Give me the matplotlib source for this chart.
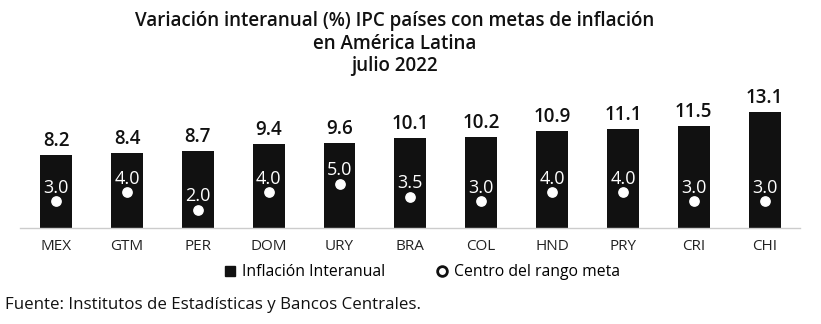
import matplotlib.pyplot as plt
from matplotlib.lines import Line2D

plt.rcParams['font.family'] = ['Open Sans', 'DejaVu Sans']

# datos
PAISES = ['MEX', 'GTM', 'PER', 'DOM', 'URY', 'BRA', 'COL', 'HND', 'PRY', 'CRI', 'CHI']
INFLACION = [8.2, 8.4, 8.7, 9.4, 9.6, 10.1, 10.2, 10.9, 11.1, 11.5, 13.1]
META = [3.0, 4.0, 2.0, 4.0, 5.0, 3.5, 3.0, 4.0, 4.0, 3.0, 3.0]

fig = plt.figure(figsize=(8.21, 3.24), dpi=100)
ax = fig.add_axes([0.0244, 0.296, 0.950, 0.412])

x = range(len(PAISES))
ax.bar(x, INFLACION, width=0.45, color='#111111', zorder=2)
ax.scatter(x, META, s=45, color='white', zorder=3)

for i in x:
    ax.text(i, INFLACION[i] + 0.45, f'{INFLACION[i]:.1f}', ha='center', va='bottom',
            fontsize=13.5, fontweight='semibold', color='#111111')
    ax.text(i, META[i] + 0.55, f'{META[i]:.1f}', ha='center', va='bottom',
            fontsize=13, color='white', zorder=4)

ax.set_xlim(-0.51, 10.5)
ax.set_ylim(0, 15)
ax.set_xticks(list(x))
ax.set_xticklabels(PAISES, fontsize=11, color='#222222')
ax.tick_params(axis='x', length=0, pad=8)
ax.set_yticks([])
for s in ['top', 'right', 'left']:
    ax.spines[s].set_visible(False)
ax.spines['bottom'].set_color('#cccccc')
ax.spines['bottom'].set_linewidth(1.0)

fig.text(0.481, 0.965, 'Variación interanual (%) IPC países con metas de inflación\n'
         'en América Latina\njulio 2022', ha='center', va='top',
         fontsize=13.5, fontweight='semibold', color='#111111', linespacing=1.15)

handles = [
    Line2D([], [], marker='s', linestyle='none', color='#111111', markersize=7),
    Line2D([], [], marker='o', linestyle='none', markerfacecolor='white',
           markeredgecolor='#111111', markeredgewidth=2, markersize=7),
]
fig.legend(handles, ['Inflación Interanual', 'Centro del rango meta'],
           loc='center', bbox_to_anchor=(0.512, 0.16), ncol=2, frameon=False,
           fontsize=11.3, handletextpad=0.2, columnspacing=3, handlelength=1.2)

fig.text(0.006, 0.035, 'Fuente: Institutos de Estadísticas y Bancos Centrales.',
         ha='left', va='bottom', fontsize=12.2, color='#111111')

fig.savefig('out.png', dpi=100)
